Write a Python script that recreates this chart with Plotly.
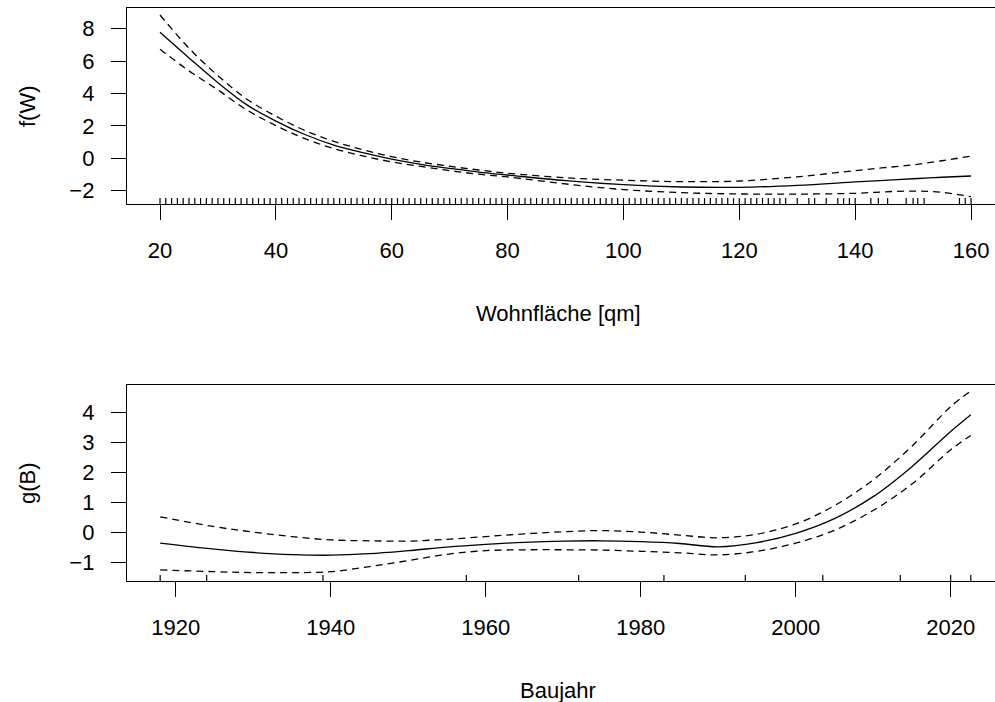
import plotly.graph_objects as go

# ---------------- data: Wohnfläche smooth ----------------
W_grid = [20, 25, 30, 35, 40, 45, 50, 55, 60, 65, 70, 75, 80, 90, 100, 110, 120, 130, 140, 145, 150, 155, 160]
fW_fit = [7.78, 6.2, 4.67, 3.3, 2.3, 1.47, 0.82, 0.35, -0.05, -0.37, -0.62, -0.85, -1.03, -1.38, -1.63,
          -1.77, -1.79, -1.67, -1.46, -1.36, -1.26, -1.17, -1.09]
fW_upper = [8.85, 6.8, 5.1, 3.65, 2.6, 1.72, 1.05, 0.53, 0.1, -0.23, -0.49, -0.72, -0.92, -1.2, -1.35,
            -1.44, -1.40, -1.14, -0.76, -0.58, -0.40, -0.15, 0.14]
fW_lower = [6.73, 5.4, 4.22, 2.98, 2.02, 1.22, 0.6, 0.15, -0.22, -0.5, -0.76, -0.98, -1.15, -1.58, -1.93,
            -2.12, -2.2, -2.21, -2.16, -2.07, -2.02, -2.1, -2.37]
W_rug = list(range(20, 129)) + [130, 132, 133, 135, 137, 138, 139, 140, 142.7, 144, 145.6, 148.8,
                                150, 150.8, 151.9, 158, 159, 160]

# ---------------- data: Baujahr smooth ----------------
B_grid = [1918, 1925, 1930, 1935, 1940, 1945, 1950, 1955, 1960, 1965, 1970, 1975, 1980, 1985, 1990,
          1995, 2000, 2005, 2010, 2015, 2020, 2022.6]
gB_fit = [-0.35, -0.55, -0.66, -0.73, -0.75, -0.7, -0.6, -0.48, -0.39, -0.32, -0.28, -0.27, -0.3, -0.36,
          -0.47, -0.33, -0.02, 0.47, 1.2, 2.2, 3.37, 3.93]
gB_upper = [0.53, 0.2, 0.02, -0.13, -0.24, -0.27, -0.28, -0.22, -0.13, -0.04, 0.03, 0.07, 0.02, -0.08,
            -0.17, -0.05, 0.29, 0.9, 1.76, 2.88, 4.2, 4.72]
gB_lower = [-1.24, -1.3, -1.33, -1.33, -1.3, -1.13, -0.93, -0.72, -0.6, -0.57, -0.57, -0.58, -0.62, -0.67,
            -0.74, -0.62, -0.35, 0.08, 0.74, 1.62, 2.76, 3.24]
B_rug = [1918, 1924, 1939, 1957.5, 1972, 1983, 1993.5, 2003.5, 2013.5, 2020, 2022.6]

W_ticks = [20, 40, 60, 80, 100, 120, 140, 160]
fW_ticks = [-2, 0, 2, 4, 6, 8]
B_ticks = [1920, 1940, 1960, 1980, 2000, 2020]
gB_ticks = [-1, 0, 1, 2, 3, 4]

FONT = "Liberation Sans, Arial, Helvetica, sans-serif"
FS = 22
LW = 1.3
DASH = "7px,5px"

fig = go.Figure()

for xs, ys, dash, xa, ya in [
    (W_grid, fW_fit, "solid", "x", "y"),
    (W_grid, fW_upper, DASH, "x", "y"),
    (W_grid, fW_lower, DASH, "x", "y"),
    (B_grid, gB_fit, "solid", "x2", "y2"),
    (B_grid, gB_upper, DASH, "x2", "y2"),
    (B_grid, gB_lower, DASH, "x2", "y2"),
]:
    fig.add_trace(go.Scatter(x=xs, y=ys, mode="lines", xaxis=xa, yaxis=ya,
                             line=dict(color="black", width=LW, dash=dash, shape="spline", smoothing=1.0),
                             showlegend=False, hoverinfo="skip"))

shapes = []
for v in W_rug:
    shapes.append(dict(type="line", xref="x", yref="y domain", x0=v, x1=v, y0=0, y1=0.03,
                       line=dict(color="black", width=1.2)))
for v in B_rug:
    shapes.append(dict(type="line", xref="x2", yref="y2 domain", x0=v, x1=v, y0=0, y1=0.03,
                       line=dict(color="black", width=1.2)))

H = 702.0
def dom(top_px, bot_px):
    return [1 - bot_px / H, 1 - top_px / H]

axis_common = dict(showgrid=False, zeroline=False, showline=True, linecolor="black", linewidth=LW,
                   ticks="outside", ticklen=15, tickwidth=LW, tickcolor="black",
                   tickfont=dict(family=FONT, size=FS, color="black"))

fig.update_layout(
    width=995, height=702,
    margin=dict(l=127, r=0, t=0, b=0),
    paper_bgcolor="white", plot_bgcolor="white",
    showlegend=False,
    shapes=shapes,
    xaxis=dict(domain=[0, 1], range=[14.3, 14.3 + 868 / 5.793], tickvals=W_ticks, mirror=True,
               anchor="y", ticklabelstandoff=11, **axis_common),
    yaxis=dict(domain=dom(8, 204), range=[-2.82, 9.28], tickvals=fW_ticks, anchor="x",
               ticklabelstandoff=12, **axis_common),
    xaxis2=dict(domain=[0, 1], range=[1913.72, 1913.72 + 868 / 7.75], tickvals=B_ticks, mirror=True,
                anchor="y2", ticklabelstandoff=11, **axis_common),
    yaxis2=dict(domain=dom(385, 581), range=[-1.61, 4.92], tickvals=gB_ticks, anchor="x2",
                ticklabelstandoff=12, **axis_common),
)

def px_x(p):
    return (p - 127) / 868.0

def px_y(p):
    return 1 - p / H

annots = [
    dict(text="f(W)", x=px_x(27), y=px_y(106), textangle=-90),
    dict(text="g(B)", x=px_x(27), y=px_y(483), textangle=-90),
    dict(text="Wohnfläche [qm]", x=px_x(558), y=px_y(313), textangle=0),
    dict(text="Baujahr", x=px_x(558), y=px_y(690), textangle=0),
]
for a in annots:
    fig.add_annotation(xref="paper", yref="paper", showarrow=False, xanchor="center", yanchor="middle",
                       font=dict(family=FONT, size=FS, color="black"), **a)

fig.write_html("out.html")
